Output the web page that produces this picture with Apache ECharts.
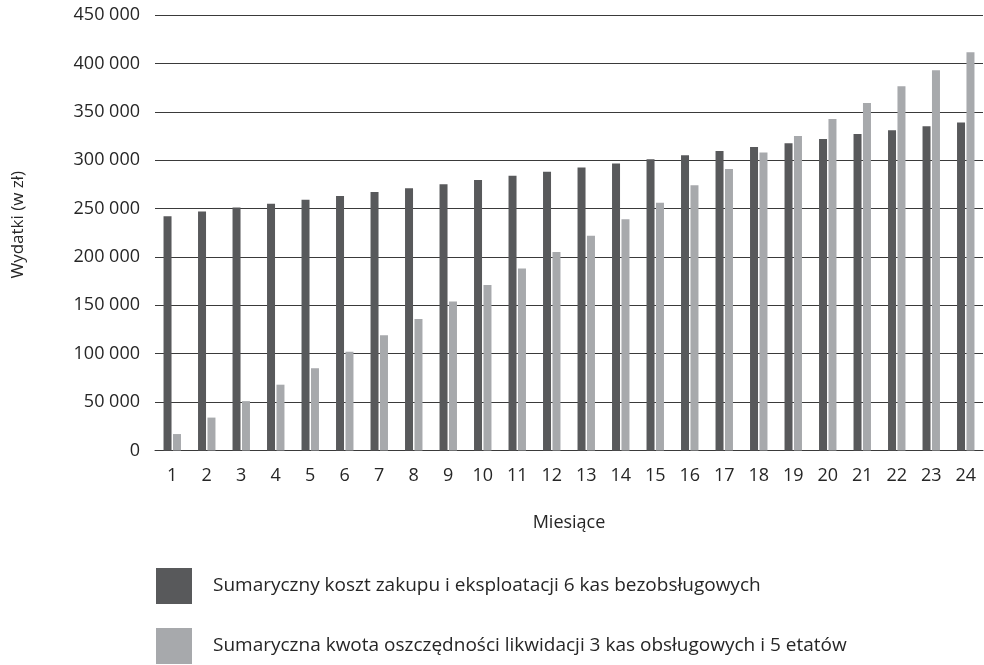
<!DOCTYPE html>
<html>
<head>
<meta charset="utf-8">
<script src="https://cdn.jsdelivr.net/npm/echarts@6/dist/echarts.min.js"></script>
<style>
  html, body { margin: 0; padding: 0; background: #ffffff; }
  #chart { width: 984px; height: 665px; }
</style>
</head>
<body>
<div id="chart"></div>
<script>
// Months 1..24
const months = ['1','2','3','4','5','6','7','8','9','10','11','12',
                '13','14','15','16','17','18','19','20','21','22','23','24'];

// Cumulative cost of buying and running 6 self-service checkouts (zł)
const kosztKas = [242000, 247000, 251000, 255000, 259000, 263000, 267000, 271000,
                  275000, 279500, 284000, 288000, 292500, 296500, 301000, 305000,
                  309500, 313500, 317500, 322000, 327000, 331000, 335000, 339000];

// Cumulative savings from closing 3 staffed checkouts and 5 positions (zł)
const oszczednosci = [17000, 34000, 51000, 68000, 85000, 102000, 119000, 136000,
                      154000, 171000, 188000, 205000, 222000, 239000, 256000, 274000,
                      291000, 308000, 325000, 342500, 359000, 376500, 393000, 411500];

const seriesNames = [
  'Sumaryczny koszt zakupu i eksploatacji 6 kas bezobsługowych',
  'Sumaryczna kwota oszczędności likwidacji 3 kas obsługowych i 5 etatów'
];

const FONT = '"Open Sans", "Noto Sans", sans-serif';
const TEXT = '#262626';
const GRID = '#3a3a3a';

const chart = echarts.init(document.getElementById('chart'));

chart.setOption({
  animation: false,
  textStyle: { fontFamily: FONT, color: TEXT },
  grid: { left: 155, right: 1, top: 15, bottom: 214.5, containLabel: false },
  legend: {
    orient: 'vertical',
    left: 156,
    top: 568,
    bottom: 0,
    padding: 0,
    itemWidth: 36,
    itemHeight: 36,
    itemGap: 24,
    icon: 'rect',
    selectedMode: false,
    textStyle: { fontFamily: FONT, fontSize: 19, color: TEXT, padding: [0, 0, 0, 16] },
    data: seriesNames
  },
  xAxis: {
    type: 'category',
    data: months,
    name: 'Miesiące',
    nameLocation: 'middle',
    nameGap: 63,
    nameTextStyle: { fontFamily: FONT, fontSize: 18, color: TEXT },
    axisLine: { show: true, lineStyle: { color: GRID, width: 1 } },
    axisTick: { show: false },
    axisLabel: { fontFamily: FONT, fontSize: 18, color: TEXT, margin: 16 }
  },
  yAxis: {
    type: 'value',
    min: 0,
    max: 450000,
    interval: 50000,
    name: 'Wydatki (w zł)',
    nameLocation: 'middle',
    nameGap: 128,
    nameRotate: 90,
    nameTextStyle: { fontFamily: FONT, fontSize: 17, color: TEXT, padding: [0, 0, 0, 16] },
    axisLine: { show: false },
    axisTick: { show: false },
    splitLine: { show: true, lineStyle: { color: GRID, width: 1 } },
    axisLabel: {
      fontFamily: FONT, fontSize: 18, color: TEXT, margin: 15,
      formatter: function (v) {
        return String(v).replace(/\B(?=(\d{3})+(?!\d))/g, ' ');
      }
    }
  },
  series: [
    {
      name: seriesNames[0],
      type: 'bar',
      data: kosztKas,
      barWidth: 8,
      barGap: '18%',
      itemStyle: { color: '#58595b' }
    },
    {
      name: seriesNames[1],
      type: 'bar',
      data: oszczednosci,
      barWidth: 8,
      itemStyle: { color: '#a7a9ac' }
    }
  ]
});
</script>
</body>
</html>
